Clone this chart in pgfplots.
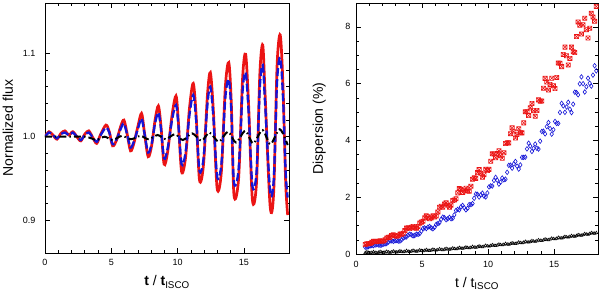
\documentclass[border=0pt]{standalone}
\usepackage{fontspec}
\setmainfont{Liberation Sans}
\usepackage{pgfplots}
\usepackage{pgfplotstable}
\pgfplotsset{compat=1.18}
\definecolor{myred}{RGB}{235,20,20}
\definecolor{myblue}{RGB}{20,20,215}
\pgfdeclareplotmark{boxx}{%
  \pgfpathrectangle{\pgfpoint{-\pgfplotmarksize}{-\pgfplotmarksize}}{\pgfpoint{2\pgfplotmarksize}{2\pgfplotmarksize}}%
  \pgfpathmoveto{\pgfpoint{-\pgfplotmarksize}{-\pgfplotmarksize}}\pgfpathlineto{\pgfpoint{\pgfplotmarksize}{\pgfplotmarksize}}%
  \pgfpathmoveto{\pgfpoint{-\pgfplotmarksize}{\pgfplotmarksize}}\pgfpathlineto{\pgfpoint{\pgfplotmarksize}{-\pgfplotmarksize}}%
  \pgfusepathqstroke}

\pgfplotstableread{
x y
0.0 1.000
0.3 1.006
0.6 1.002
0.9 0.997
1.2 1.004
1.5 1.007
1.8 1.002
2.1 1.006
2.4 1.000
2.7 0.995
3.0 1.003
3.3 1.007
3.6 0.999
3.9 0.992
4.2 1.003
4.6 1.014
4.85 1.006
5.1 0.989
5.4 0.996
5.7 1.012
5.95 1.020
6.2 1.003
6.45 0.983
6.7 0.992
7.0 1.012
7.28 1.028
7.5 1.005
7.78 0.976
8.05 0.990
8.3 1.020
8.55 1.037
8.75 1.012
8.98 0.967
9.25 0.982
9.6 1.028
9.88 1.049
10.05 1.020
10.3 0.958
10.6 0.975
10.9 1.035
11.18 1.064
11.4 1.025
11.65 0.948
11.95 0.966
12.25 1.050
12.47 1.077
12.7 1.030
12.98 0.938
13.3 0.958
13.6 1.060
13.86 1.089
14.05 1.040
14.25 0.930
14.6 0.950
14.9 1.070
15.13 1.099
15.35 1.040
15.64 0.924
15.95 0.945
16.2 1.075
16.42 1.110
16.6 1.050
16.98 0.916
17.25 0.935
17.5 1.085
17.74 1.122
17.95 1.060
18.15 0.945
18.3 0.906
}\redflux

\pgfplotstableread{
x y
0.0 1.000
0.3 1.005
0.6 1.002
0.9 0.998
1.2 1.003
1.5 1.005
1.8 1.002
2.1 1.005
2.4 1.000
2.7 0.996
3.0 1.002
3.3 1.005
3.6 0.999
3.9 0.994
4.2 1.002
4.6 1.011
4.85 1.005
5.1 0.991
5.4 0.997
5.7 1.009
5.95 1.016
6.2 1.002
6.45 0.987
6.7 0.994
7.0 1.009
7.28 1.022
7.5 1.004
7.78 0.981
8.05 0.992
8.3 1.016
8.55 1.029
8.75 1.009
8.98 0.974
9.25 0.986
9.6 1.022
9.88 1.038
10.05 1.016
10.3 0.967
10.6 0.981
10.9 1.027
11.18 1.050
11.4 1.020
11.65 0.959
11.95 0.973
12.25 1.039
12.47 1.060
12.7 1.023
12.98 0.952
13.3 0.967
13.6 1.047
13.86 1.069
14.05 1.031
14.25 0.945
14.6 0.961
14.9 1.055
15.13 1.077
15.35 1.031
15.64 0.941
15.95 0.957
16.2 1.059
16.42 1.086
16.6 1.039
16.98 0.934
17.25 0.949
17.5 1.066
17.74 1.095
17.95 1.047
18.15 0.957
18.3 0.927
}\blueflux

\pgfplotstableread{
x y
0.0 1.000
1.0 1.000
2.0 1.000
3.0 1.000
3.5 0.998
3.9 0.996
4.5 1.000
5.1 0.996
5.8 1.001
6.5 0.997
7.2 1.001
7.8 0.997
8.5 1.002
9.1 0.997
9.8 1.003
10.4 0.996
11.1 1.004
11.8 0.995
12.4 1.005
13.1 0.994
13.8 1.006
14.4 0.993
15.1 1.007
15.7 0.992
16.4 1.008
17.0 0.991
17.7 1.009
18.3 0.990
}\blackflux

\pgfplotstableread{
x r b k
0.7 0.333 0.240 0.045
0.95 0.362 0.259 0.047
1.2 0.409 0.294 0.050
1.45 0.444 0.318 0.052
1.7 0.447 0.319 0.055
1.95 0.451 0.318 0.059
2.2 0.498 0.354 0.062
2.45 0.586 0.418 0.065
2.7 0.651 0.466 0.069
2.95 0.654 0.466 0.073
3.2 0.645 0.455 0.078
3.45 0.700 0.496 0.082
3.7 0.824 0.589 0.087
3.95 0.927 0.667 0.092
4.2 0.943 0.676 0.097
4.45 0.918 0.653 0.102
4.7 0.968 0.690 0.108
4.95 1.122 0.805 0.114
5.2 1.273 0.920 0.120
5.45 1.312 0.946 0.126
5.7 1.273 0.915 0.133
5.95 1.308 0.937 0.139
6.2 1.481 1.069 0.146
6.45 1.682 1.222 0.154
6.7 1.758 1.277 0.161
6.95 1.714 1.239 0.169
7.2 1.722 1.242 0.177
7.45 1.901 1.378 0.185
7.7 2.153 1.570 0.193
7.95 2.278 1.663 0.202
8.2 2.238 1.629 0.210
8.45 2.217 1.608 0.219
8.7 2.387 1.737 0.228
8.95 2.681 1.961 0.238
9.2 2.868 2.102 0.248
9.45 2.846 2.082 0.257
9.7 2.794 2.038 0.268
9.95 2.941 2.147 0.278
10.2 3.268 2.398 0.289
10.45 3.522 2.591 0.299
10.7 3.537 2.598 0.310
10.95 3.457 2.532 0.322
11.2 3.566 2.612 0.333
11.45 3.913 2.877 0.345
11.7 4.238 3.126 0.357
11.95 4.304 3.173 0.369
12.2 4.208 3.094 0.381
12.45 4.270 3.137 0.394
12.7 4.618 3.403 0.407
12.95 5.011 3.703 0.420
13.2 5.146 3.803 0.433
13.45 5.047 3.722 0.446
13.7 5.055 3.724 0.460
13.95 5.384 3.975 0.474
14.2 5.840 4.324 0.488
14.45 6.055 4.487 0.503
14.7 5.973 4.418 0.517
14.95 5.927 4.377 0.532
15.2 6.218 4.598 0.547
15.45 6.721 4.984 0.562
15.7 7.029 5.218 0.578
15.95 6.983 5.178 0.594
16.2 6.888 5.098 0.610
16.45 7.124 5.277 0.626
16.7 7.657 5.685 0.642
16.95 8.061 5.993 0.659
17.2 8.074 5.998 0.676
17.45 7.900 5.889 0.693
17.7 7.950 6.015 0.710
17.95 8.350 6.300 0.728
18.2 8.720 6.450 0.745
}\disp

\pgfplotstableread{
x r b k
0.825 0.362 0.240 0.071
1.075 0.371 0.288 0.034
1.325 0.444 0.294 0.076
1.575 0.428 0.331 0.039
1.825 0.467 0.306 0.082
2.075 0.456 0.349 0.046
2.325 0.564 0.371 0.089
2.575 0.594 0.460 0.052
2.825 0.679 0.447 0.096
3.075 0.624 0.479 0.061
3.325 0.700 0.457 0.105
3.575 0.732 0.565 0.070
3.825 0.911 0.603 0.115
4.075 0.898 0.699 0.080
4.325 0.968 0.638 0.125
4.575 0.905 0.699 0.090
4.825 1.087 0.718 0.136
5.075 1.150 0.897 0.102
5.325 1.345 0.896 0.148
5.575 1.241 0.968 0.115
5.825 1.343 0.889 0.161
6.075 1.339 1.043 0.128
6.325 1.645 1.100 0.175
6.575 1.651 1.300 0.143
6.825 1.805 1.208 0.190
7.075 1.649 1.291 0.158
7.325 1.884 1.258 0.206
7.575 1.946 1.533 0.174
7.825 2.305 1.552 0.223
8.075 2.168 1.712 0.191
8.325 2.317 1.554 0.240
8.575 2.210 1.740 0.209
8.825 2.635 1.775 0.258
9.075 2.664 2.113 0.228
9.325 2.971 2.008 0.278
9.575 2.707 2.142 0.248
9.825 2.983 2.009 0.298
10.075 2.981 2.364 0.269
10.325 3.531 2.395 0.319
10.575 3.389 2.699 0.290
10.825 3.637 2.462 0.341
11.075 3.372 2.675 0.313
11.325 3.890 2.635 0.364
11.575 3.913 3.122 0.336
11.825 4.442 3.024 0.388
12.075 4.086 3.259 0.360
12.325 4.409 2.991 0.413
12.575 4.266 3.401 0.386
12.825 5.008 3.411 0.439
13.075 4.876 3.903 0.412
13.325 5.301 3.612 0.465
13.575 4.849 3.872 0.438
13.825 5.429 3.696 0.492
14.075 5.388 4.316 0.466
14.325 6.186 4.230 0.521
14.575 5.773 4.631 0.495
14.825 6.188 4.222 0.550
15.075 5.830 4.668 0.525
15.325 6.729 4.599 0.580
15.575 6.600 5.305 0.555
15.825 7.286 4.990 0.611
16.075 6.659 5.344 0.587
16.325 7.286 4.980 0.643
16.575 7.095 5.700 0.619
16.825 8.173 5.605 0.676
17.075 7.745 6.236 0.653
17.325 8.306 5.706 0.710
17.575 7.608 6.190 0.687
17.825 8.476 5.912 0.744
18.075 8.194 6.630 0.722
}\dispmid

\begin{document}
\begin{tikzpicture}
\useasboundingbox (0pt,0pt) rectangle (600pt,292pt);
\pgfplotsset{
  myaxis/.style={
    scale only axis,
    anchor=south west,
    tick align=inside,
    major tick length=5pt,
    minor tick length=3pt,
    every tick/.style={black, line width=0.6pt},
    axis line style={line width=0.8pt},
    tick label style={font=\fontsize{9}{10}\selectfont},
    label style={font=\fontsize{14}{16}\selectfont},
    /pgf/number format/assume math mode=true,
    xtick={0,5,10,15}, minor x tick num=4,
    xlabel style={at={(axis description cs:0.5,-0.116)},anchor=center},
    ylabel style={at={(axis description cs:-0.152,0.5)},anchor=center},
  }
}
\begin{axis}[myaxis, at={(45pt,39pt)}, width=244pt, height=250pt,
  xmin=0, xmax=18.4, ymin=0.8604, ymax=1.1605,
  ytick={0.9,1.0,1.1}, minor y tick num=4,
  yticklabel style={/pgf/number format/fixed, /pgf/number format/precision=1, /pgf/number format/fixed zerofill, xshift=-6pt},
  xticklabel style={yshift=-3pt},
  xlabel={\textbf{t} / \textbf{t}\textsubscript{ISCO}},
  ylabel={Normalized flux}]
\addplot[myred, line width=2.7pt, smooth, tension=0.5] table[x=x,y=y]{\redflux};
\addplot[myblue, line width=2.3pt, smooth, tension=0.5, dash pattern=on 8pt off 3pt] table[x=x,y=y]{\blueflux};
\addplot[black, line width=2pt, smooth, tension=0.5, dash pattern=on 7pt off 3pt on 1.5pt off 3pt] table[x=x,y=y]{\blackflux};
\end{axis}
\begin{axis}[myaxis, at={(356pt,38pt)}, width=242pt, height=251pt,
  xmin=0, xmax=18.33, ymin=0, ymax=8.84,
  ytick={0,2,4,6,8}, minor y tick num=3,
  yticklabel style={xshift=-2pt},
  xticklabel style={yshift=-3.5pt},
  xlabel={t / t\textsubscript{ISCO}},
  ylabel={Dispersion (\%)}]
\addplot[only marks, black, mark=triangle, mark size=1.7pt, mark options={line width=0.5pt}] table[x=x,y=k]{\disp};
\addplot[only marks, black, mark=triangle, mark size=1.7pt, mark options={line width=0.5pt}] table[x=x,y=k]{\dispmid};
\addplot[only marks, myblue, mark=diamond, mark size=2.3pt, mark options={line width=0.6pt}] table[x=x,y=b]{\disp};
\addplot[only marks, myblue, mark=diamond, mark size=2.3pt, mark options={line width=0.6pt}] table[x=x,y=b]{\dispmid};
\addplot[only marks, myred, mark=boxx, mark size=2.1pt, mark options={line width=0.6pt}] table[x=x,y=r]{\disp};
\addplot[only marks, myred, mark=boxx, mark size=2.1pt, mark options={line width=0.6pt}] table[x=x,y=r]{\dispmid};
\end{axis}
\end{tikzpicture}
\end{document}
